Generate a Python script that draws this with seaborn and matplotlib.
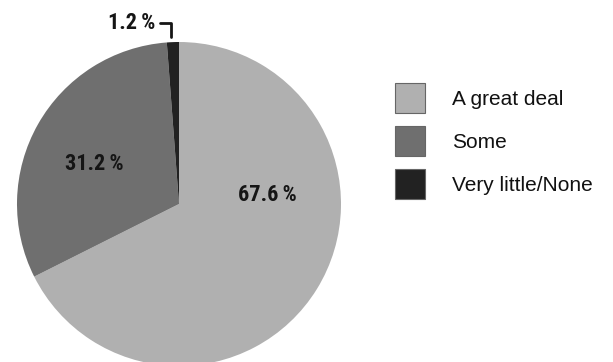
import matplotlib.pyplot as plt
import seaborn as sns
from matplotlib.patches import Patch

# data
categories = ['A great deal', 'Some', 'Very little/None']
shares = [67.6, 31.2, 1.2]
pct_labels = ['67.6\u2009%', '31.2\u2009%', '1.2\u2009%']
colors = ['#b0b0b0', '#6f6f6f', '#222222']

sns.set_theme(style='white')
plt.rcParams['font.family'] = ['Roboto Condensed', 'DejaVu Sans']

fig = plt.figure(figsize=(6.13, 3.62), dpi=100)
W, H = 613, 362
cx, cy, r = 179, 204, 162
ax = fig.add_axes([(cx - r) / W, (H - cy - r) / H, 2 * r / W, 2 * r / H])

wedges, _ = ax.pie(shares, colors=colors, startangle=90, counterclock=False,
                   radius=1, wedgeprops=dict(linewidth=0))
ax.set_xlim(-1, 1)
ax.set_ylim(-1, 1)
ax.set_aspect('equal')
ax.axis('off')

lab = dict(fontsize=16, fontweight='bold', color='#151515')
ax.text(0.548, 0.068, pct_labels[0], ha='center', va='center_baseline', **lab)
ax.text(-0.525, 0.265, pct_labels[1], ha='center', va='center_baseline', **lab)
ax.annotate(pct_labels[2], xy=(-0.049, 1.03), xytext=(-0.148, 1.13),
            ha='right', va='center_baseline', annotation_clip=False,
            arrowprops=dict(arrowstyle='-', lw=2, color='#151515',
                            shrinkA=1, shrinkB=0,
                            connectionstyle='angle,angleA=0,angleB=90,rad=0'),
            **lab)

handles = [Patch(facecolor=c, edgecolor='#666666', linewidth=0.8) for c in colors]
fig.legend(handles, categories, loc='upper left',
           bbox_to_anchor=(395 / W, 1 - 83 / H), frameon=False,
           prop=dict(family=['Liberation Sans', 'DejaVu Sans'], size=15),
           handlelength=1.44, handleheight=1.84,
           handletextpad=1.3, labelspacing=0.63, borderaxespad=0,
           borderpad=0, labelcolor='#111111')

fig.savefig('out.png', dpi=100)
